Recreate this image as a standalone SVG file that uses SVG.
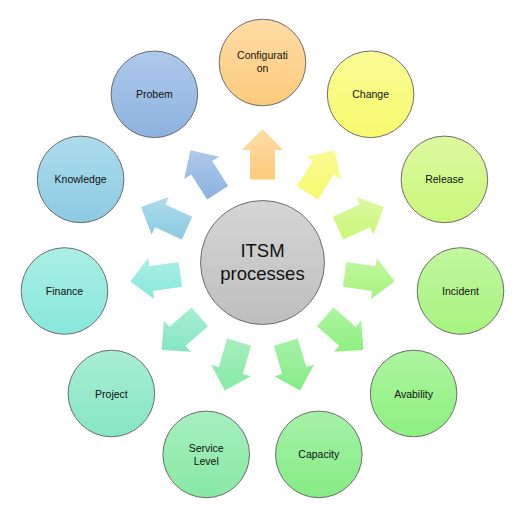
<svg xmlns="http://www.w3.org/2000/svg" width="526" height="528" viewBox="0 0 526 528">
<style>
.node{stroke:#5f5f5f;stroke-width:0.9}
.lbl{font-family:"Liberation Sans","DejaVu Sans",sans-serif;font-size:10.5px;fill:#111;text-anchor:middle}
.ctr{font-family:"Liberation Sans","DejaVu Sans",sans-serif;font-size:18.5px;fill:#111;text-anchor:middle}
.arr{stroke:none}
</style>
<defs>
<linearGradient id="gC" x1="0" y1="0" x2="0" y2="1"><stop offset="0" stop-color="#FEDCA6"/><stop offset="1" stop-color="#FCCB7B"/></linearGradient>
<linearGradient id="gCh" x1="0" y1="0" x2="0" y2="1"><stop offset="0" stop-color="#FAFB96"/><stop offset="1" stop-color="#F7FA6C"/></linearGradient>
<linearGradient id="gR" x1="0" y1="0" x2="0" y2="1"><stop offset="0" stop-color="#DDF9A0"/><stop offset="1" stop-color="#C9F77A"/></linearGradient>
<linearGradient id="gI" x1="0" y1="0" x2="0" y2="1"><stop offset="0" stop-color="#C1F7A0"/><stop offset="1" stop-color="#A6F47E"/></linearGradient>
<linearGradient id="gA" x1="0" y1="0" x2="0" y2="1"><stop offset="0" stop-color="#AEF5A0"/><stop offset="1" stop-color="#8CF07E"/></linearGradient>
<linearGradient id="gCa" x1="0" y1="0" x2="0" y2="1"><stop offset="0" stop-color="#A6F1A8"/><stop offset="1" stop-color="#84EC84"/></linearGradient>
<linearGradient id="gS" x1="0" y1="0" x2="0" y2="1"><stop offset="0" stop-color="#A7EFBF"/><stop offset="1" stop-color="#88E9A4"/></linearGradient>
<linearGradient id="gP" x1="0" y1="0" x2="0" y2="1"><stop offset="0" stop-color="#A8EED3"/><stop offset="1" stop-color="#86E6C3"/></linearGradient>
<linearGradient id="gF" x1="0" y1="0" x2="0" y2="1"><stop offset="0" stop-color="#AAEFE4"/><stop offset="1" stop-color="#88E7DB"/></linearGradient>
<linearGradient id="gK" x1="0" y1="0" x2="0" y2="1"><stop offset="0" stop-color="#ACDCEC"/><stop offset="1" stop-color="#8CCAE2"/></linearGradient>
<linearGradient id="gPr" x1="0" y1="0" x2="0" y2="1"><stop offset="0" stop-color="#AEC9EA"/><stop offset="1" stop-color="#8DB2DF"/></linearGradient>
<linearGradient id="gM" x1="0" y1="0" x2="0" y2="1"><stop offset="0" stop-color="#D5D5D5"/><stop offset="1" stop-color="#BEBEBE"/></linearGradient>
</defs>

<g id="connectors">
<polygon class="arr" fill="url(#gC)" points="250,179.5 250,150 241.75,150 262.5,129 283.25,150 275,150 275,179.5"/>
<polygon class="arr" fill="url(#gCh)" points="296.85,185.91 312.8,161.09 305.86,156.63 334.67,150.19 340.78,179.07 333.84,174.61 317.89,199.43"/>
<polygon class="arr" fill="url(#gR)" points="332.81,216.65 359.64,204.4 356.21,196.9 383.93,207.04 373.45,234.64 370.02,227.14 343.19,239.39"/>
<polygon class="arr" fill="url(#gI)" points="346.43,261.94 375.63,266.14 376.8,257.97 394.64,281.5 370.9,299.05 372.07,290.88 342.87,286.68"/>
<polygon class="arr" fill="url(#gA)" points="333.41,307.41 355.71,326.73 361.11,320.5 363.39,349.93 333.93,351.86 339.33,345.63 317.03,326.31"/>
<polygon class="arr" fill="url(#gCa)" points="297.87,338.62 306.18,366.92 314.1,364.59 300.11,390.59 274.28,376.29 282.2,373.96 273.89,345.66"/>
<polygon class="arr" fill="url(#gS)" points="227.13,338.62 218.82,366.92 210.9,364.59 224.89,390.59 250.72,376.29 242.8,373.96 251.11,345.66"/>
<polygon class="arr" fill="url(#gP)" points="191.59,307.41 169.29,326.73 163.89,320.5 161.61,349.93 191.07,351.86 185.67,345.63 207.97,326.31"/>
<polygon class="arr" fill="url(#gF)" points="178.57,261.94 149.37,266.14 148.2,257.97 130.36,281.5 154.1,299.05 152.93,290.88 182.13,286.68"/>
<polygon class="arr" fill="url(#gK)" points="192.19,216.65 165.36,204.4 168.79,196.9 141.07,207.04 151.55,234.64 154.98,227.14 181.81,239.39"/>
<polygon class="arr" fill="url(#gPr)" points="228.15,185.91 212.2,161.09 219.14,156.63 190.33,150.19 184.22,179.07 191.16,174.61 207.11,199.43"/>
</g>

<g id="node-center">
<circle class="node" cx="262.5" cy="262.5" r="62" fill="url(#gM)"/>
<text class="ctr" x="262.5" y="257">ITSM</text>
<text class="ctr" x="262.5" y="279.5">processes</text>
</g>

<g id="node-configuration">
<circle class="node" cx="262.5" cy="62.5" r="43.3" fill="url(#gC)"/>
<text class="lbl" x="262.5" y="58.5">Configurati</text>
<text class="lbl" x="262.5" y="71.5">on</text>
</g>
<g id="node-change">
<circle class="node" cx="370.6" cy="94.3" r="43.3" fill="url(#gCh)"/>
<text class="lbl" x="370.6" y="98.3">Change</text>
</g>
<g id="node-release">
<circle class="node" cx="444.4" cy="179.4" r="43.3" fill="url(#gR)"/>
<text class="lbl" x="444.4" y="183.4">Release</text>
</g>
<g id="node-incident">
<circle class="node" cx="460.5" cy="291" r="43.3" fill="url(#gI)"/>
<text class="lbl" x="460.5" y="295">Incident</text>
</g>
<g id="node-avability">
<circle class="node" cx="413.6" cy="393.5" r="43.3" fill="url(#gA)"/>
<text class="lbl" x="413.6" y="397.5">Avability</text>
</g>
<g id="node-capacity">
<circle class="node" cx="318.8" cy="454.4" r="43.3" fill="url(#gCa)"/>
<text class="lbl" x="318.8" y="458.4">Capacity</text>
</g>
<g id="node-service-level">
<circle class="node" cx="206.2" cy="454.4" r="43.3" fill="url(#gS)"/>
<text class="lbl" x="206.2" y="451.5">Service</text>
<text class="lbl" x="206.2" y="464.5">Level</text>
</g>
<g id="node-project">
<circle class="node" cx="111.4" cy="393.5" r="43.3" fill="url(#gP)"/>
<text class="lbl" x="111.4" y="397.5">Project</text>
</g>
<g id="node-finance">
<circle class="node" cx="64.5" cy="291" r="43.3" fill="url(#gF)"/>
<text class="lbl" x="64.5" y="295">Finance</text>
</g>
<g id="node-knowledge">
<circle class="node" cx="80.6" cy="179.4" r="43.3" fill="url(#gK)"/>
<text class="lbl" x="80.6" y="183.4">Knowledge</text>
</g>
<g id="node-probem">
<circle class="node" cx="154.4" cy="94.3" r="43.3" fill="url(#gPr)"/>
<text class="lbl" x="154.4" y="98.3">Probem</text>
</g>
</svg>
